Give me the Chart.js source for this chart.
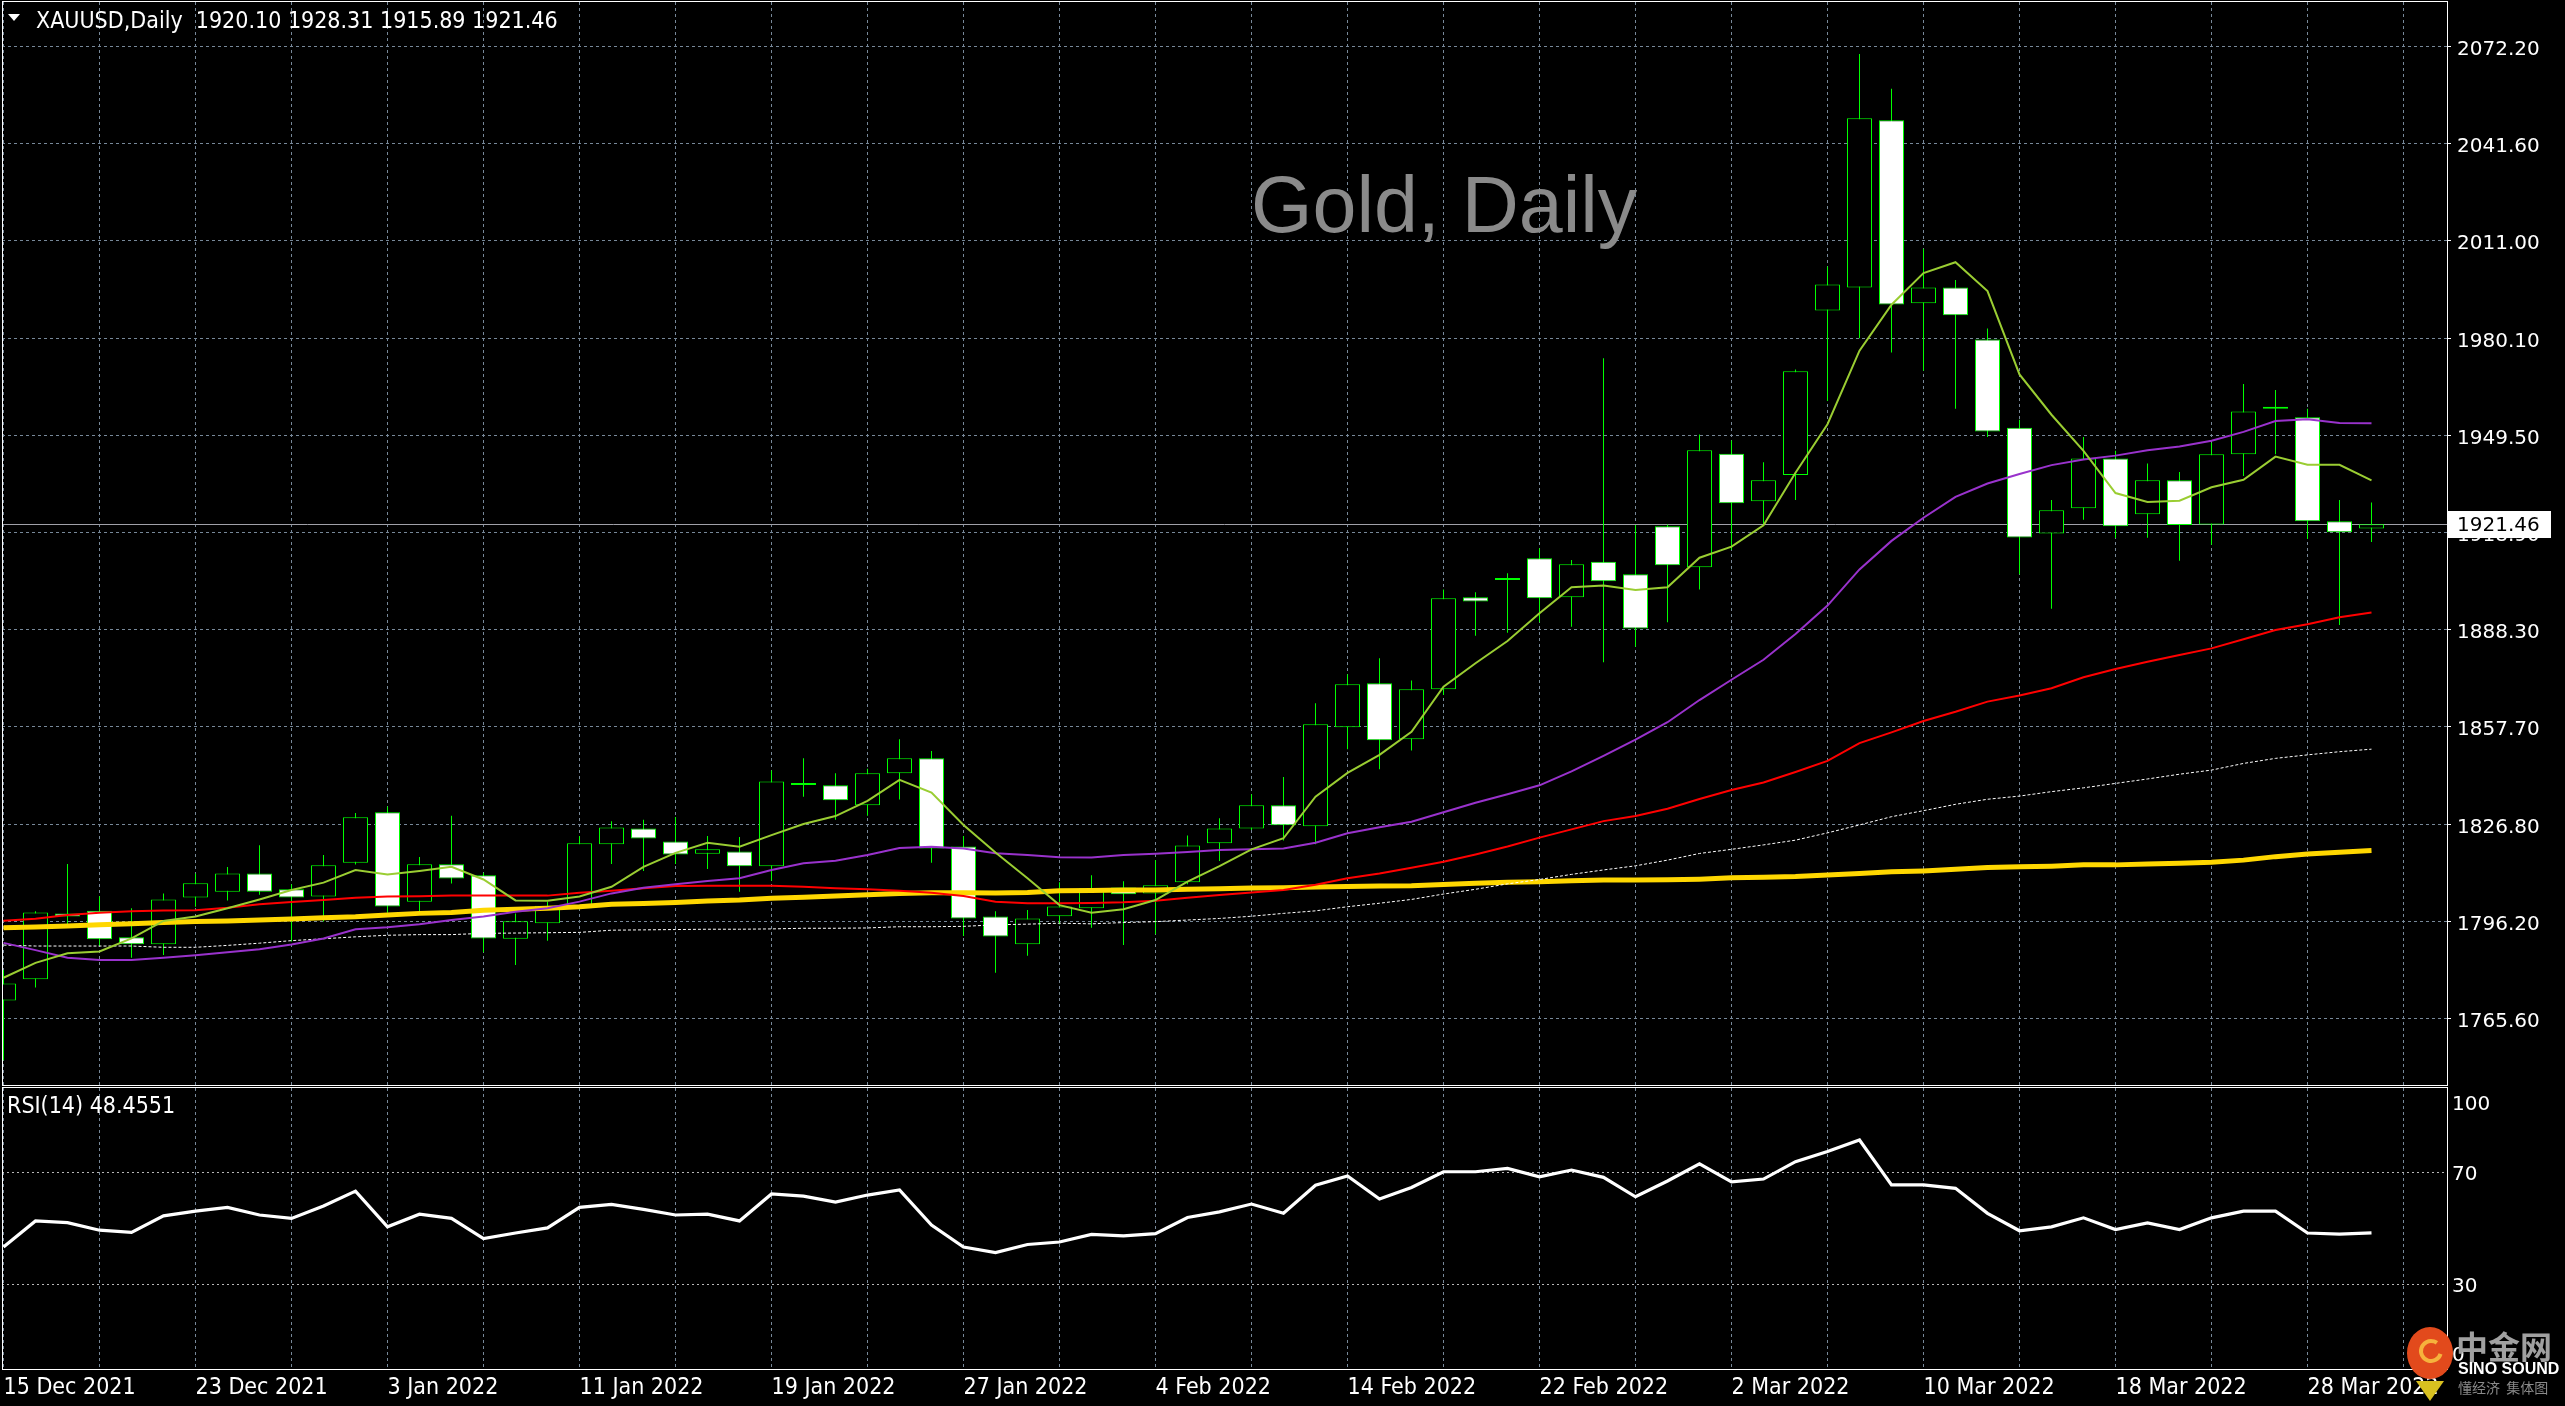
<!DOCTYPE html>
<html>
<head>
<meta charset="utf-8">
<script src="https://cdn.jsdelivr.net/npm/chart.js@4.4.1/dist/chart.umd.min.js"></script>
<style>
  html, body { margin: 0; padding: 0; background: #000; overflow: hidden; }
  #wrap { position: relative; width: 2565px; height: 1406px; background: #000; }
  canvas { position: absolute; left: 0; }
</style>
</head>
<body>
<div id="wrap">
  <canvas id="main" width="2565" height="1087" style="top:0"></canvas>
  <canvas id="rsi" width="2565" height="321" style="top:1085px"></canvas>
</div>
<script>
// ---- data (XAUUSD daily, 15 Dec 2021 - 30 Mar 2022) ----
const dates = [
  '15 Dec 2021','16 Dec 2021','17 Dec 2021','20 Dec 2021','21 Dec 2021','22 Dec 2021','23 Dec 2021',
  '27 Dec 2021','28 Dec 2021','29 Dec 2021','30 Dec 2021','31 Dec 2021',
  '3 Jan 2022','4 Jan 2022','5 Jan 2022','6 Jan 2022','7 Jan 2022','10 Jan 2022','11 Jan 2022',
  '12 Jan 2022','13 Jan 2022','14 Jan 2022','17 Jan 2022','18 Jan 2022','19 Jan 2022','20 Jan 2022',
  '21 Jan 2022','24 Jan 2022','25 Jan 2022','26 Jan 2022','27 Jan 2022','28 Jan 2022','31 Jan 2022',
  '1 Feb 2022','2 Feb 2022','3 Feb 2022','4 Feb 2022','7 Feb 2022','8 Feb 2022','9 Feb 2022',
  '10 Feb 2022','11 Feb 2022','14 Feb 2022','15 Feb 2022','16 Feb 2022','17 Feb 2022','18 Feb 2022',
  '21 Feb 2022','22 Feb 2022','23 Feb 2022','24 Feb 2022','25 Feb 2022','28 Feb 2022',
  '1 Mar 2022','2 Mar 2022','3 Mar 2022','4 Mar 2022','7 Mar 2022','8 Mar 2022','9 Mar 2022',
  '10 Mar 2022','11 Mar 2022','14 Mar 2022','15 Mar 2022','16 Mar 2022','17 Mar 2022','18 Mar 2022',
  '21 Mar 2022','22 Mar 2022','23 Mar 2022','24 Mar 2022','25 Mar 2022','28 Mar 2022','29 Mar 2022',
  '30 Mar 2022'
];

const opens = [
  1771.2,1777.9,1798.7,1799.5,1791.2,1789.0,1803.7,1805.5,1811.3,1806.3,
  1804.0,1814.7,1830.6,1802.4,1814.2,1810.7,1790.7,1795.6,1800.3,1820.5,
  1825.5,1821.4,1817.5,1818.2,1813.6,1839.2,1839.1,1832.8,1842.9,1847.6,
  1819.8,1797.7,1789.0,1797.8,1800.3,1806.9,1805.0,1808.5,1820.8,1825.5,
  1832.8,1826.2,1857.4,1871.3,1853.6,1869.4,1898.4,1903.9,1910.7,1898.4,
  1909.6,1905.7,1920.8,1907.9,1943.7,1928.7,1937.0,1988.9,1996.1,2048.9,
  1991.2,1996.1,1979.7,1951.9,1918.5,1926.5,1942.2,1924.6,1935.3,1921.4,
  1943.5,1957.9,1955.2,1922.4,1920.10
];
const highs = [
  1780.8,1799.4,1814.3,1804.1,1800.3,1805.0,1811.3,1813.3,1820.2,1807.9,
  1817.1,1830.4,1832.4,1816.5,1829.5,1811.5,1798.7,1802.4,1823.1,1827.8,
  1828.2,1829.1,1823.1,1822.8,1843.8,1847.6,1842.9,1844.3,1853.6,1849.9,
  1823.1,1799.4,1799.8,1808.5,1810.7,1808.8,1815.5,1823.3,1828.7,1836.3,
  1841.7,1865.0,1874.1,1879.2,1872.2,1900.9,1900.0,1906.0,1913.9,1910.2,
  1973.8,1921.2,1921.4,1949.8,1947.9,1941.0,1970.3,2002.8,2069.8,2058.8,
  2008.4,1998.5,1983.2,1954.4,1929.1,1949.0,1944.6,1940.6,1937.9,1947.2,
  1965.7,1963.8,1957.9,1929.1,1928.31
];
const lows = [
  1752.4,1775.3,1795.3,1788.4,1784.7,1785.6,1800.8,1802.8,1804.6,1789.8,
  1796.1,1814.1,1798.9,1799.2,1808.1,1786.4,1782.4,1790.1,1800.0,1814.3,
  1812.1,1814.3,1812.7,1805.5,1809.0,1835.5,1828.2,1829.5,1834.6,1814.7,
  1791.6,1780.0,1785.3,1795.3,1794.2,1788.7,1792.1,1807.9,1815.2,1825.0,
  1821.7,1820.5,1850.5,1844.2,1850.1,1867.6,1886.3,1887.2,1890.5,1889.1,
  1877.9,1882.8,1890.5,1900.9,1913.3,1921.1,1929.1,1960.3,1980.1,1975.6,
  1969.9,1957.9,1949.0,1905.7,1894.8,1922.9,1917.1,1917.2,1909.9,1915.0,
  1936.7,1943.5,1916.8,1889.7,1915.89
];
const closes = [
  1776.6,1799.0,1797.7,1790.5,1789.0,1803.1,1808.2,1811.3,1805.5,1803.7,
  1813.9,1829.0,1800.9,1814.2,1809.7,1790.8,1796.2,1801.1,1820.8,1825.8,
  1822.3,1817.3,1818.9,1813.6,1840.3,1839.2,1834.4,1842.9,1847.6,1819.2,
  1797.1,1791.4,1797.1,1800.9,1806.6,1804.7,1807.6,1820.1,1825.5,1832.8,
  1826.5,1858.4,1871.0,1853.3,1869.4,1898.1,1897.1,1903.9,1898.1,1908.8,
  1903.5,1888.6,1908.5,1944.8,1928.1,1935.3,1969.7,1997.1,2049.5,1990.8,
  1996.1,1987.4,1950.7,1917.3,1925.9,1942.2,1920.8,1935.3,1921.2,1943.5,
  1957.0,1957.9,1922.4,1918.9,1921.46
];

// moving averages as drawn on the chart
const maFast = [
  1778.4,1783.1,1786.1,1786.7,1790.8,1796.3,1797.7,1800.3,1803.1,1806.1,
  1808.4,1812.4,1811.0,1812.1,1813.4,1809.4,1802.8,1802.7,1804.0,1807.1,
  1813.4,1817.8,1821.0,1819.7,1823.4,1826.9,1829.4,1834.2,1840.8,1836.8,
  1826.6,1817.9,1809.8,1801.3,1798.9,1800.0,1802.9,1808.7,1813.6,1818.9,
  1822.4,1835.5,1843.0,1848.7,1856.0,1870.2,1877.6,1884.6,1893.4,1901.6,
  1902.1,1900.7,1901.6,1910.9,1914.4,1921.1,1937.7,1953.0,1976.2,1990.7,
  2000.7,2004.1,1995.0,1968.7,1956.0,1944.6,1931.3,1928.5,1928.9,1933.1,
  1935.5,1942.8,1940.2,1940.2,1935.3
];
const maPurple = [
  1789.4,1787.1,1784.7,1784.0,1784.0,1784.7,1785.5,1786.4,1787.4,1788.9,
  1790.8,1793.7,1794.3,1795.3,1796.6,1797.7,1799.2,1800.3,1802.4,1805.0,
  1806.8,1807.9,1808.9,1809.8,1812.4,1814.5,1815.3,1817.1,1819.3,1819.7,
  1819.2,1817.7,1817.1,1816.4,1816.3,1817.1,1817.5,1818.1,1818.7,1818.9,
  1819.2,1821.0,1824.0,1825.9,1827.6,1830.6,1833.6,1836.3,1839.1,1843.5,
  1848.4,1853.5,1859.0,1866.0,1872.4,1878.7,1886.8,1895.8,1907.2,1916.2,
  1923.5,1930.1,1934.3,1937.3,1940.1,1941.9,1943.1,1944.8,1946.0,1947.8,
  1950.6,1954.0,1954.6,1953.4,1953.3
];
const maRed = [
  1796.4,1797.0,1798.2,1798.9,1799.4,1799.6,1799.7,1800.5,1801.6,1802.3,
  1802.9,1803.6,1804.0,1804.1,1804.3,1804.3,1804.3,1804.3,1805.2,1805.8,
  1806.6,1807.3,1807.4,1807.4,1807.4,1807.1,1806.6,1806.3,1805.8,1805.2,
  1804.2,1802.4,1801.9,1801.9,1802.0,1802.2,1802.7,1803.6,1804.5,1805.3,
  1806.1,1807.7,1809.8,1811.3,1813.1,1815.0,1817.3,1819.8,1822.6,1825.2,
  1827.8,1829.4,1831.7,1834.8,1837.6,1840.0,1843.3,1846.8,1852.4,1855.8,
  1859.4,1862.3,1865.5,1867.4,1869.7,1873.2,1875.8,1878.1,1880.2,1882.3,
  1885.2,1888.1,1889.9,1892.1,1893.6
];
const maDotted = [
  1788.7,1788.4,1788.4,1788.4,1788.4,1788.0,1788.0,1788.6,1789.3,1790.1,
  1790.7,1791.3,1791.8,1792.0,1792.0,1792.4,1792.5,1792.6,1792.7,1793.4,
  1793.5,1793.6,1793.7,1793.7,1793.8,1794.0,1794.0,1794.1,1794.5,1794.5,
  1794.6,1795.1,1795.3,1795.6,1795.4,1795.8,1796.1,1796.6,1797.1,1797.8,
  1798.7,1799.5,1800.8,1801.9,1803.1,1804.8,1806.3,1808.0,1809.4,1811.0,
  1812.4,1813.7,1815.5,1817.6,1818.9,1820.3,1821.8,1824.1,1826.6,1829.2,
  1831.1,1833.1,1834.7,1835.7,1837.1,1838.3,1839.7,1841.1,1842.6,1843.9,
  1846.0,1847.6,1848.7,1849.7,1850.5
];
const maGold = [
  1794.2,1794.4,1794.7,1795.1,1795.4,1795.8,1796.1,1796.3,1796.6,1796.9,
  1797.3,1797.6,1798.2,1798.7,1799.0,1799.7,1800.0,1800.3,1800.8,1801.6,
  1801.8,1802.1,1802.6,1802.9,1803.5,1803.8,1804.2,1804.6,1805.0,1805.2,
  1805.2,1805.1,1805.3,1805.8,1805.9,1806.1,1806.1,1806.3,1806.5,1806.7,
  1806.8,1807.0,1807.2,1807.3,1807.4,1807.8,1808.2,1808.5,1808.7,1809.0,
  1809.2,1809.2,1809.3,1809.5,1809.9,1810.1,1810.3,1810.8,1811.3,1811.8,
  1812.1,1812.6,1813.2,1813.4,1813.6,1814.0,1814.0,1814.3,1814.5,1814.8,
  1815.5,1816.6,1817.4,1818.0,1818.5
];

const rsi = [
  43.4,52.7,52.1,49.4,48.6,54.5,56.2,57.5,54.8,53.6,
  58.0,63.3,50.6,55.1,53.6,46.4,48.4,50.2,57.5,58.6,
  56.8,54.8,55.1,52.7,62.3,61.5,59.4,61.9,63.7,51.2,
  43.4,41.4,44.3,45.2,47.9,47.4,48.2,53.9,55.9,58.7,
  55.4,65.4,68.7,60.5,64.6,70.2,70.2,71.4,68.4,70.8,
  68.2,61.3,66.9,73.0,66.6,67.6,73.8,77.4,81.5,65.5,
  65.5,64.3,55.4,49.2,50.6,53.8,49.6,52.0,49.6,53.8,
  56.2,56.2,48.4,48.0,48.4551
];

const priceTicks = [2072.20, 2041.60, 2011.00, 1980.10, 1949.50, 1918.90, 1888.30, 1857.70, 1826.80, 1796.20, 1765.60];
const rsiTicks = [100, 70, 30, 0];
const symbolName = 'XAUUSD,Daily';
const watermark = 'Gold, Daily';

// ---- look ----
const GRID = 'rgb(119,136,153)';
const LIME = '#00ff00';
const NARROW = '"Liberation Sans Narrow", "DejaVu Sans Condensed", "Arial Narrow", sans-serif';
const AXISFONT = '"DejaVu Sans", Verdana, sans-serif';
const X_MIN = -0.046875, X_MAX = 76.359375;   // 32 px per bar
const Y_MIN = 1744.56, Y_MAX = 2086.2;
const last = closes.length - 1;

const gridIdx = [];
for (let v = 0; v <= 75; v += 3) gridIdx.push(v);

const xy = arr => arr.map((v, i) => ({x: i, y: v}));

function xAxis(withLabels) {
  return {
    type: 'linear', min: X_MIN, max: X_MAX, offset: false,
    afterBuildTicks: s => { s.ticks = gridIdx.map(v => ({value: v})); },
    afterFit: s => { s.height = withLabels ? 37 : 0; s.paddingLeft = 0; s.paddingRight = 0; },
    grid: {color: GRID, drawTicks: false, offset: false, borderDash: [3, 3]},
    border: {display: false, dash: [3, 3]},
    ticks: {
      display: withLabels, autoSkip: false, maxRotation: 0, minRotation: 0,
      align: 'start', padding: 5, color: '#ffffff',
      font: {family: NARROW, size: 23},
      callback: v => (v % 6 === 0 && dates[v]) ? dates[v] : ''
    }
  };
}

function maLine(arr, color, width, order) {
  return {type: 'line', data: xy(arr), borderColor: color, borderWidth: width,
          pointRadius: 0, tension: 0, fill: false, order: order};
}

const mainDecor = {
  id: 'mainDecor',
  beforeDatasetsDraw(chart) {
    const {ctx, chartArea: a, scales: {y}} = chart;
    ctx.save();
    ctx.fillStyle = '#8a8a8a';
    ctx.font = '79px "Liberation Sans", Arial, sans-serif';
    ctx.textAlign = 'left';
    ctx.textBaseline = 'alphabetic';
    ctx.fillText(watermark, 1251, 232);
    const py = Math.round(y.getPixelForValue(closes[last])) + 0.5;
    ctx.strokeStyle = '#a0a0a8';
    ctx.lineWidth = 1;
    ctx.beginPath();
    ctx.moveTo(a.left, py);
    ctx.lineTo(a.right, py);
    ctx.stroke();
    ctx.restore();
  },
  afterDraw(chart) {
    const {ctx, chartArea: a, scales: {y}} = chart;
    ctx.save();
    ctx.strokeStyle = '#ffffff';
    ctx.lineWidth = 1;
    ctx.strokeRect(a.left + 0.5, a.top - 0.5, a.right - a.left, a.bottom - a.top + 1);

    // header
    ctx.fillStyle = '#ffffff';
    ctx.beginPath();
    ctx.moveTo(8, 14); ctx.lineTo(20, 14); ctx.lineTo(14, 21); ctx.closePath();
    ctx.fill();
    ctx.font = '23px ' + NARROW;
    ctx.textBaseline = 'middle';
    ctx.textAlign = 'left';
    const hdr = symbolName + '  ' + [opens[last], highs[last], lows[last], closes[last]].map(v => v.toFixed(2)).join(' ');
    ctx.fillText(hdr, 36, 22);

    // last price box on the axis
    const py = Math.round(y.getPixelForValue(closes[last]));
    ctx.fillStyle = '#ffffff';
    ctx.fillRect(a.right + 1, py - 13, 103, 27);
    ctx.fillStyle = '#000000';
    ctx.font = '20px ' + AXISFONT;
    ctx.fillText(closes[last].toFixed(2), 2457, py + 2);
    ctx.restore();
  }
};

new Chart(document.getElementById('main'), {
  type: 'bar',
  data: {
    datasets: [
      maLine(maFast, '#9acd32', 2, 1),
      maLine(maPurple, '#9932cc', 2, 2),
      maLine(maRed, '#ff0000', 2, 3),
      Object.assign(maLine(maDotted, '#ffffff', 1, 4), {borderDash: [3, 2]}),
      maLine(maGold, '#ffd700', 5, 5),
      {
        type: 'bar',
        data: opens.map((o, i) => ({x: i, y: [o, closes[i]]})),
        backgroundColor: opens.map((o, i) => closes[i] >= o ? '#000000' : '#ffffff'),
        borderColor: LIME, borderWidth: 1, borderSkipped: false,
        grouped: false, barPercentage: 1, categoryPercentage: 1,
        maxBarThickness: 25, minBarLength: 2, inflateAmount: 0, order: 6
      },
      {
        type: 'bar',
        data: lows.map((l, i) => ({x: i, y: [l, highs[i]]})),
        backgroundColor: LIME, borderWidth: 0,
        grouped: false, barPercentage: 1, categoryPercentage: 1,
        maxBarThickness: 1, inflateAmount: 0, order: 7
      }
    ]
  },
  options: {
    responsive: false, animation: false, devicePixelRatio: 1, events: [],
    layout: {padding: {left: 2, top: 2, right: 0, bottom: 2}},
    plugins: {legend: {display: false}, tooltip: {enabled: false}},
    scales: {
      x: xAxis(false),
      y: {
        type: 'linear', position: 'right', min: Y_MIN, max: Y_MAX, beginAtZero: false,
        afterBuildTicks: s => { s.ticks = priceTicks.map(v => ({value: v})); },
        afterFit: s => { s.width = 118; s.paddingTop = 0; s.paddingBottom = 0; },
        grid: {color: GRID, tickColor: '#ffffff', tickLength: 4, tickBorderDash: [], borderDash: [3, 3]},
        border: {display: true, color: '#ffffff', width: 1, dash: [3, 3]},
        ticks: {color: '#ffffff', font: {family: AXISFONT, size: 20}, padding: 6, labelOffset: 3,
                autoSkip: false, callback: v => v.toFixed(2)}
      }
    }
  },
  plugins: [mainDecor]
});

const rsiDecor = {
  id: 'rsiDecor',
  afterDraw(chart) {
    const {ctx, chartArea: a, scales: {y}} = chart;
    ctx.save();
    ctx.strokeStyle = '#ffffff';
    ctx.lineWidth = 1;
    ctx.strokeRect(a.left + 0.5, a.top - 0.5, a.right - a.left, a.bottom - a.top + 1);
    ctx.fillStyle = '#ffffff';
    ctx.textAlign = 'left';
    ctx.textBaseline = 'middle';
    ctx.font = '23px ' + NARROW;
    ctx.fillText('RSI(14) ' + rsi[last].toFixed(4), 7, 22);
    ctx.font = '20px ' + AXISFONT;
    const shift = {100: 17, 70: 2, 30: 2, 0: -13};
    rsiTicks.forEach(v => {
      ctx.fillText(String(v), 2452, y.getPixelForValue(v) + shift[v]);
    });

    // site badge in the corner
    ctx.fillStyle = '#e24a1c';
    ctx.beginPath();
    ctx.ellipse(2430, 268, 23, 26, 0, 0, Math.PI * 2);
    ctx.fill();
    ctx.strokeStyle = '#f6b23c';
    ctx.lineWidth = 4;
    ctx.beginPath();
    ctx.arc(2431, 266, 10, 0.3, Math.PI * 1.7);
    ctx.stroke();
    ctx.fillStyle = '#d8c020';
    ctx.beginPath();
    ctx.moveTo(2416, 296); ctx.lineTo(2444, 296); ctx.lineTo(2430, 316); ctx.closePath();
    ctx.fill();
    ctx.fillStyle = '#a0a0a0';
    ctx.font = 'bold 32px "Noto Sans CJK SC", sans-serif';
    ctx.fillText('中金网', 2456, 262);
    ctx.fillStyle = '#ffffff';
    ctx.font = 'bold 16px "Liberation Sans", Arial, sans-serif';
    ctx.fillText('SINO SOUND', 2458, 285);
    ctx.fillStyle = '#8a8a8a';
    ctx.font = '14px "Noto Sans CJK SC", sans-serif';
    ctx.fillText('懂经济  集体图', 2458, 303);
    ctx.restore();
  }
};

new Chart(document.getElementById('rsi'), {
  type: 'line',
  data: {
    datasets: [{data: xy(rsi), borderColor: '#ffffff', borderWidth: 3.2, pointRadius: 0, tension: 0, fill: false}]
  },
  options: {
    responsive: false, animation: false, devicePixelRatio: 1, events: [],
    layout: {padding: {left: 2, top: 3, right: 0, bottom: 0}},
    plugins: {legend: {display: false}, tooltip: {enabled: false}},
    scales: {
      x: xAxis(true),
      y: {
        type: 'linear', position: 'right', min: 0, max: 100,
        afterBuildTicks: s => { s.ticks = rsiTicks.map(v => ({value: v})); },
        afterFit: s => { s.width = 118; s.paddingTop = 0; s.paddingBottom = 0; },
        grid: {
          color: c => (c.tick && (c.tick.value === 30 || c.tick.value === 70)) ? '#b8b8b8' : 'rgba(0,0,0,0)',
          drawTicks: false, borderDash: [2, 3]
        },
        border: {display: true, color: '#ffffff', dash: [2, 3]},
        ticks: {display: false}
      }
    }
  },
  plugins: [rsiDecor]
});
</script>
</body>
</html>
